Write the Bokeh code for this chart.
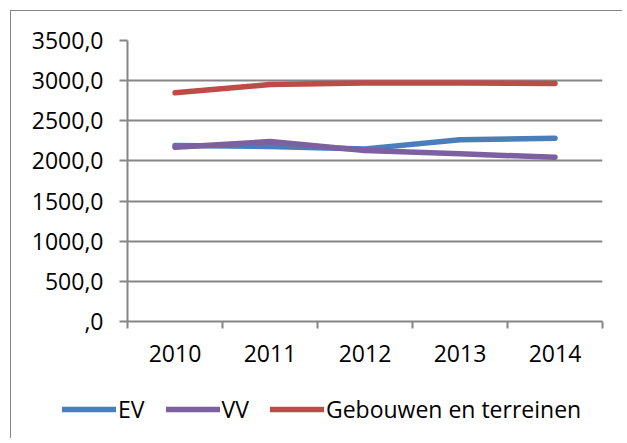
from bokeh.plotting import figure
from bokeh.models import FixedTicker, Range1d, Legend, LegendItem
from bokeh.embed import file_html
from bokeh.resources import INLINE

years = ["2010", "2011", "2012", "2013", "2014"]
ev = [2192, 2180, 2150, 2265, 2283]
vv = [2171, 2241, 2129, 2088, 2046]
gebouwen = [2848, 2951, 2972, 2970, 2964]
series_names = ["EV", "VV", "Gebouwen en terreinen"]
series_colors = ["#4a7ebb", "#7d60a0", "#be4b48"]
y_ticks = [0, 500, 1000, 1500, 2000, 2500, 3000, 3500]
y_labels = [",0", "500,0", "1000,0", "1500,0", "2000,0", "2500,0", "3000,0", "3500,0"]

FONT = "Open Sans"
GRAY = "#868686"
W = 612

x_pos = [i + 0.5 for i in range(len(years))]

p = figure(width=W, height=370, output_backend="svg", toolbar_location=None,
           x_range=Range1d(0, len(years)), y_range=Range1d(0, 3500),
           min_border_left=116, min_border_right=21, min_border_top=29, min_border_bottom=60)
p.outline_line_color = None
p.background_fill_color = "white"
p.border_fill_color = "white"
p.styles = {"margin-left": "10px", "margin-top": "10px",
            "border-left": f"1px solid {GRAY}", "border-top": f"1px solid {GRAY}"}

# x axis
p.xaxis.ticker = FixedTicker(ticks=x_pos, minor_ticks=list(range(len(years) + 1)))
p.xaxis.major_label_overrides = {x: y for x, y in zip(x_pos, years)}
p.xaxis.major_tick_out = 0
p.xaxis.major_tick_in = 0
p.xaxis.minor_tick_out = 7
p.xaxis.minor_tick_in = 0
p.xaxis.minor_tick_line_color = GRAY
p.xaxis.minor_tick_line_width = 2
p.xaxis.axis_line_color = GRAY
p.xaxis.axis_line_width = 2
p.xaxis.major_label_standoff = 16
p.xaxis.major_label_text_font = FONT
p.xaxis.major_label_text_font_size = "23px"
p.xaxis.major_label_text_color = "black"
p.xgrid.visible = False

# y axis
p.yaxis.ticker = FixedTicker(ticks=y_ticks)
p.yaxis.major_label_overrides = {t: l for t, l in zip(y_ticks, y_labels)}
p.yaxis.major_tick_out = 8
p.yaxis.major_tick_in = 0
p.yaxis.minor_tick_line_color = None
p.yaxis.major_tick_line_color = GRAY
p.yaxis.major_tick_line_width = 2
p.yaxis.axis_line_color = GRAY
p.yaxis.axis_line_width = 2
p.yaxis.major_label_standoff = 16
p.yaxis.major_label_text_font = FONT
p.yaxis.major_label_text_font_size = "23px"
p.yaxis.major_label_text_color = "black"
p.ygrid.grid_line_color = GRAY
p.ygrid.grid_line_width = 2

for vals, col in zip([ev, vv, gebouwen], series_colors):
    p.line(x_pos, vals, line_color=col, line_width=5.5, line_cap="round", line_join="round")

# legend figure (below the chart); its lines fall outside its ranges, only the legend shows
LH = 58
p2 = figure(width=W, height=LH, output_backend="svg", toolbar_location=None,
            x_range=Range1d(0, W), y_range=Range1d(0, LH),
            min_border_left=0, min_border_right=0, min_border_top=0, min_border_bottom=0)
p2.axis.visible = False
p2.grid.visible = False
p2.outline_line_color = None
p2.background_fill_color = "white"
p2.border_fill_color = "white"
p2.styles = {"margin-left": "10px", "border-left": f"1px solid {GRAY}"}

items = []
for name, vals, col in zip(series_names, [ev, vv, gebouwen], series_colors):
    r = p2.line(x_pos, vals, line_color=col, line_width=5.5, line_cap="round")
    items.append(LegendItem(label=name, renderers=[r]))

legend = Legend(items=items, orientation="horizontal", location=(51, 13),
                glyph_width=54, glyph_height=20, label_height=20, label_standoff=2, spacing=21,
                padding=0, margin=0, border_line_color=None, background_fill_alpha=0,
                label_text_font=FONT, label_text_font_size="23px", label_text_color="black")
p2.add_layout(legend)

open("out.html", "w").write(file_html([p, p2], INLINE))
